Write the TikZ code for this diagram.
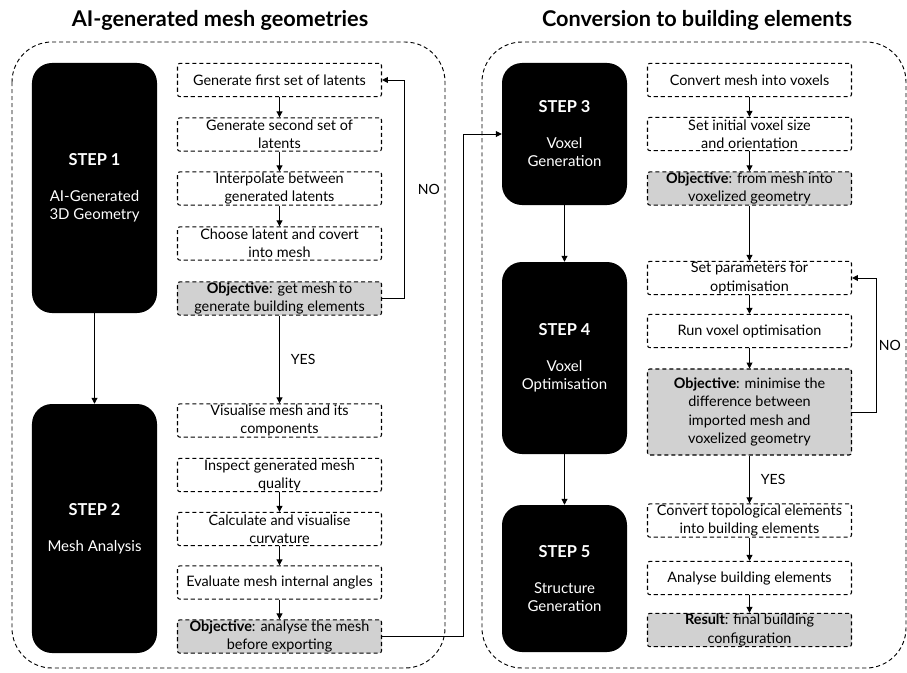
\documentclass[tikz,border=0pt]{standalone}
\usepackage{fontspec}
\setmainfont{Lato}
\usetikzlibrary{arrows.meta}

\tikzset{
  stepbox/.style={fill=black, text=white, rounded corners=0.6cm, minimum width=3.75cm,
    align=center, font=\fontsize{12.8}{15.5}\selectfont},
  task/.style={draw, line width=0.9pt, dash pattern=on 3.5pt off 2.5pt, rounded corners=2pt,
    minimum width=6.12cm, minimum height=1.0cm, align=center, inner sep=0.5pt,
    font=\fontsize{12.3}{15.5}\selectfont},
  goal/.style={task, fill=black!18},
  flow/.style={line width=0.8pt, -{Triangle[length=5pt,width=5pt]}},
  answer/.style={font=\fontsize{12}{14}\selectfont},
  frame/.style={line width=0.8pt, dash pattern=on 3.5pt off 2.5pt, rounded corners=1.2cm},
  heading/.style={font=\fontsize{18.5}{22}\selectfont\bfseries}
}

\begin{document}
\begin{tikzpicture}[x=0.03cm,y=-0.03cm]
\useasboundingbox (0,0) rectangle (907,672);

% headings and frames
\node[heading] (h1) at (220,20) {AI-generated mesh geometries};
\node[heading] (h2) at (697,20) {Conversion to building elements};
\draw[frame] (12,42) rectangle (445,668);
\draw[frame] (482,42) rectangle (906,668);

% steps
\node[stepbox, minimum height=7.5cm] (s1) at (94.5,188) {{\fontsize{14}{15.5}\selectfont\bfseries STEP 1}\\[15pt]AI-Generated\\3D Geometry};
\node[stepbox, minimum height=7.47cm] (s2) at (94.5,528.5) {{\fontsize{14}{15.5}\selectfont\bfseries STEP 2}\\[15pt]Mesh Analysis};
\node[stepbox, minimum height=4.26cm] (s3) at (564.5,134) {{\fontsize{14}{15.5}\selectfont\bfseries STEP 3}\\[15pt]Voxel\\Generation};
\node[stepbox, minimum height=5.76cm] (s4) at (564.5,358) {{\fontsize{14}{15.5}\selectfont\bfseries STEP 4}\\[15pt]Voxel\\Optimisation};
\node[stepbox, minimum height=4.41cm] (s5) at (564.5,578.5) {{\fontsize{14}{15.5}\selectfont\bfseries STEP 5}\\[15pt]Structure\\Generation};

% left column
\node[task] (t1) at (279.5,80) {Generate first set of latents};
\node[task] (t2) at (279.5,134.5) {Generate second set of\\latents};
\node[task] (t3) at (279.5,188.5) {Interpolate between\\generated latents};
\node[task] (t4) at (279.5,243.5) {Choose latent and covert\\into mesh};
\node[goal] (g1) at (279.5,298.5) {\textbf{Objective}: get mesh to\\generate building elements};
\node[task] (t5) at (279.5,420.5) {Visualise mesh and its\\components};
\node[task] (t6) at (279.5,475) {Inspect generated mesh\\quality};
\node[task] (t7) at (279.5,529) {Calculate and visualise\\curvature};
\node[task] (t8) at (279.5,582.5) {Evaluate mesh internal angles};
\node[goal] (g2) at (279.5,636.5) {\textbf{Objective}: analyse the mesh\\before exporting};

% right column
\node[task] (r1) at (749.5,80) {Convert mesh into voxels};
\node[task] (r2) at (749.5,134) {Set initial voxel size\\and orientation};
\node[goal] (g3) at (749.5,188.5) {\textbf{Objective}: from mesh into\\voxelized geometry};
\node[task] (r4) at (749.5,278) {Set parameters for\\optimisation};
\node[task] (r5) at (749.5,331) {Run voxel optimisation};
\node[goal, minimum height=2.58cm] (g4) at (749.5,412) {\textbf{Objective}: minimise the\\difference between\\imported mesh and\\voxelized geometry};
\node[task] (r7) at (749.5,520.5) {Convert topological elements\\into building elements};
\node[task] (r8) at (749.5,578) {Analyse building elements};
\node[goal] (g5) at (749.5,630) {\textbf{Result}: final building\\configuration};

% connectors
\draw[flow] (s1) -- (s2);
\draw[flow] (s3) -- (s4);
\draw[flow] (s4) -- (s5);
\draw[flow] (t1) -- (t2);
\draw[flow] (t2) -- (t3);
\draw[flow] (t3) -- (t4);
\draw[flow] (g1) -- node[answer,right=6pt]{YES} (t5);
\draw[flow] (g1.east) -- ++(22,0) |- node[answer,pos=.25,right=8pt]{NO} (t1.east);
\draw[flow] (t6) -- (t7);
\draw[flow] (t7) -- (t8);
\draw[flow] (t8) -- (g2);
\draw[flow] (g2.east) -- ++(81,0) |- (s3.west);
\draw[flow] (r1) -- (r2);
\draw[flow] (r2) -- (g3);
\draw[flow] (g3) -- (r4);
\draw[flow] (r4) -- (r5);
\draw[flow] (r5) -- (g4);
\draw[flow] (g4) -- node[answer,right=6pt]{YES} (r7);
\draw[flow] (g4.east) -- ++(24,0) |- node[answer,pos=.25,right=0pt,inner sep=2pt]{NO} (r4.east);
\draw[flow] (r7) -- (r8);
\draw[flow] (r8) -- (g5);
\end{tikzpicture}
\end{document}
